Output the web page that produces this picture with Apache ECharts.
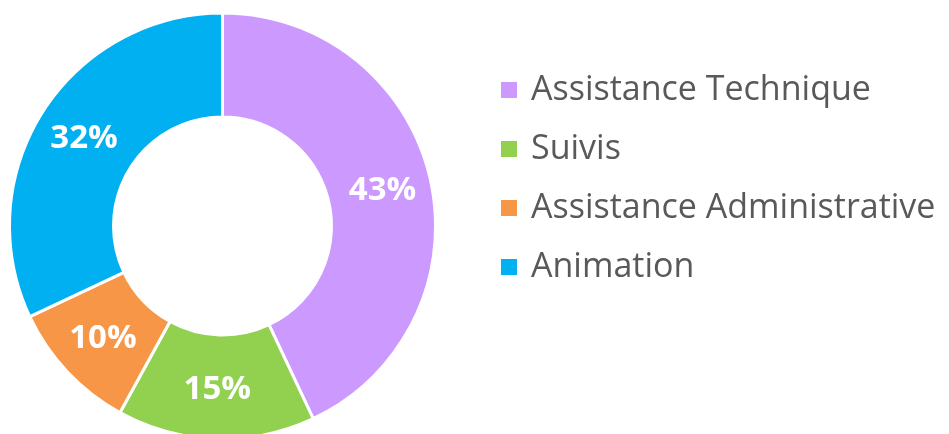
<!DOCTYPE html>
<html><head><meta charset="utf-8">
<script src="https://cdn.jsdelivr.net/npm/echarts@6/dist/echarts.min.js"></script>
<style>html,body{margin:0;padding:0;background:#fff}#c{width:949px;height:434px}</style>
</head><body><div id="c"></div>
<script>
const categories = ['Assistance Technique', 'Suivis', 'Assistance Administrative', 'Animation'];
const values = [43, 15, 10, 32];
const colors = ['#CC99FF', '#92D050', '#F79646', '#00B0F0'];

const chart = echarts.init(document.getElementById('c'), null, {renderer: 'canvas'});
chart.setOption({
  animation: false,
  color: colors,
  legend: {
    orient: 'vertical',
    left: 494,
    top: 68,
    padding: 5,
    itemWidth: 18,
    itemHeight: 18,
    itemGap: 25,
    icon: 'rect',
    textStyle: {fontFamily: 'Open Sans', fontSize: 34, color: '#595959', padding: [0, 0, 0, 8]},
    data: categories
  },
  series: [{
    type: 'pie',
    center: [222.5, 226],
    radius: [109, 213],
    startAngle: 90,
    clockwise: true,
    itemStyle: {borderColor: '#fff', borderWidth: 3},
    label: {
      show: true, position: 'inside', formatter: '{c}%',
      fontFamily: 'Open Sans', fontWeight: 'bold', fontSize: 33, color: '#fff'
    },
    labelLine: {show: false},
    emphasis: {disabled: true},
    data: categories.map((n, i) => ({name: n, value: values[i]}))
  }]
});
</script></body></html>
